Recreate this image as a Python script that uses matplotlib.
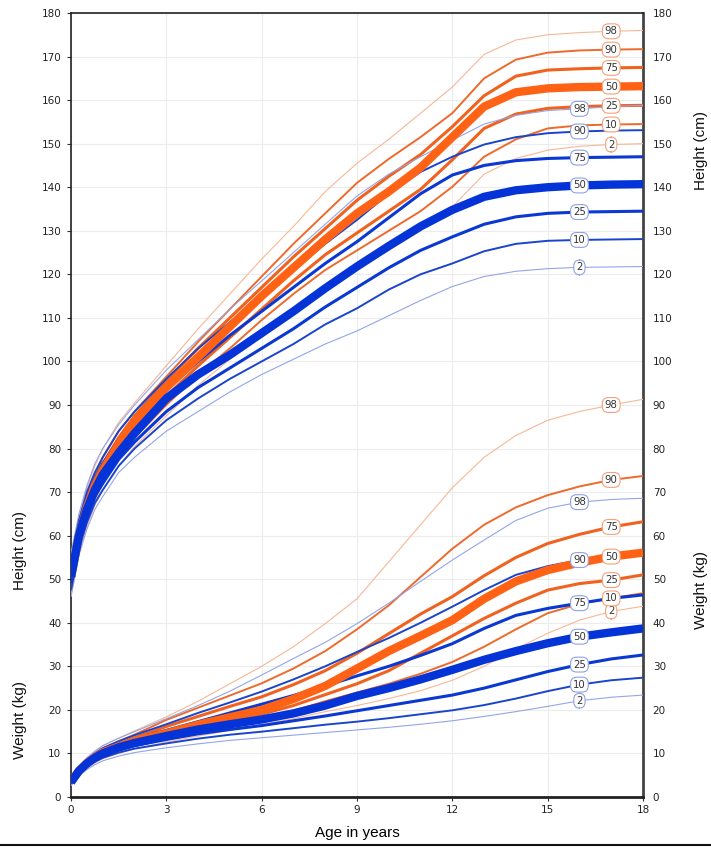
import matplotlib
matplotlib.use("Agg")
import matplotlib.pyplot as plt
import numpy as np
from matplotlib.lines import Line2D

# ---------------- data ----------------
ages = [0, 0.25, 0.5, 0.75, 1, 1.5, 2, 3, 4, 5, 6, 7, 8, 9, 10, 11, 12, 13, 14, 15, 16, 17, 18]
percentiles = [2, 10, 25, 50, 75, 90, 98]

# Height (cm), orange group
h_orange = {
    98: [55, 64, 71, 76, 80, 86, 90.5, 99, 107.5, 115.5, 123.5, 131, 139, 145.5, 151, 157, 163, 170.5, 173.8, 175, 175.5, 175.8, 176],
    90: [53.5, 62.5, 69, 74, 78, 84, 88.5, 96.5, 104.5, 112, 119.5, 127, 134, 141, 146.5, 151.5, 157, 165, 169.3, 170.9, 171.4, 171.6, 171.7],
    75: [52, 61.5, 68, 73, 76.5, 82.5, 87.5, 95.5, 103, 110, 117, 124, 130.5, 137, 142.5, 147.5, 153.9, 161, 165.5, 166.9, 167.2, 167.4, 167.5],
    50: [50.5, 60, 66.5, 71.5, 75, 81, 86, 94, 101, 108, 115, 121.5, 128, 134, 139, 144.5, 151.5, 158.5, 161.8, 162.7, 163, 163.1, 163.2],
    25: [49, 58.5, 65, 70, 73.5, 79.5, 84, 92, 99, 105.5, 112, 118.5, 124.5, 129.5, 134.5, 139.5, 146.3, 153.5, 156.8, 158.1, 158.5, 158.7, 158.8],
    10: [47.5, 57.5, 63.5, 68.5, 72, 78, 82.5, 90, 97, 103, 109.5, 115.5, 121, 125.5, 130, 134.5, 140.1, 147, 151, 153.5, 154.2, 154.4, 154.5],
    2:  [46, 56, 62, 67, 70.5, 76, 80.5, 87.5, 94.5, 100.5, 106.5, 112, 117.5, 121.5, 125.5, 130, 135.5, 143, 146.6, 148.5, 149.4, 149.8, 150],
}
# Height (cm), blue group
h_blue = {
    98: [56, 65, 71.5, 76.5, 80, 85.5, 90, 98, 105, 112, 118.5, 125, 131.5, 138, 143, 147, 150.8, 154.5, 156.5, 157.6, 158, 158.5, 158.8],
    90: [54, 63.5, 70, 74.5, 78, 84, 88.5, 96, 103, 109, 115, 121, 127, 132.5, 138.5, 143.5, 147, 149.8, 151.5, 152.4, 152.8, 153, 153.1],
    75: [52.5, 62, 68.5, 73, 76.5, 82, 86.5, 93.5, 100, 106, 111.5, 117, 122.5, 127.5, 133, 138.5, 142.8, 145, 146.1, 146.6, 146.8, 146.9, 147],
    50: [50.5, 60, 66, 70.5, 74, 79, 83.5, 91.5, 97, 101.5, 106.5, 111.5, 116.8, 121.8, 126.5, 131, 134.8, 137.8, 139.3, 140, 140.4, 140.6, 140.7],
    25: [49, 58.5, 64.5, 69, 72, 77.5, 81.5, 88.5, 94, 98.5, 103, 107.5, 112.5, 117, 121.5, 125.5, 128.6, 131.5, 133.2, 134, 134.3, 134.4, 134.5],
    10: [47.5, 57, 63, 67.5, 70.5, 76, 80, 86.5, 91.5, 96, 100, 104, 108.5, 112.2, 116.5, 120, 122.5, 125.3, 127, 127.7, 127.9, 128, 128.1],
    2:  [46, 55.5, 61.5, 66, 69, 74.5, 78, 84, 88.5, 93, 97, 100.5, 104, 107, 110.5, 114, 117.2, 119.5, 120.7, 121.3, 121.6, 121.7, 121.8],
}
# Weight (kg), orange group
w_orange = {
    98: [4.2, 7.0, 9.0, 10.5, 11.8, 13.5, 15.2, 18.4, 22, 26, 30, 34.5, 39.8, 45.5, 54, 62.5, 71, 78, 83, 86.5, 88.5, 90, 91.3],
    90: [3.9, 6.6, 8.5, 10, 11.2, 12.8, 14.3, 17.7, 20.5, 23.3, 26.1, 29.5, 33.5, 38.5, 44, 50.5, 57, 62.5, 66.5, 69.3, 71.3, 72.8, 73.7],
    75: [3.7, 6.3, 8.1, 9.5, 10.7, 12.2, 13.6, 16.2, 18.5, 20.8, 23, 25.8, 29, 33, 37.5, 42, 46, 50.8, 55, 58.2, 60.3, 62, 63.2],
    50: [3.5, 6.0, 7.8, 9.1, 10.2, 11.6, 12.9, 14.6, 16.6, 18.3, 20, 22.5, 25.5, 29.5, 33.5, 37, 40.6, 45.5, 49.5, 52.1, 53.8, 55.2, 56.1],
    25: [3.3, 5.7, 7.4, 8.7, 9.8, 11.1, 12.3, 14, 15.8, 17.5, 19, 21, 23.5, 26, 29, 33, 37, 41, 44.5, 47.5, 49, 49.8, 51],
    10: [3.0, 5.4, 7.1, 8.3, 9.4, 10.6, 11.8, 13.3, 15, 16.5, 18, 19.8, 22, 24, 26, 28.3, 31, 34.5, 38.5, 42.2, 44.3, 45.6, 46.8],
    2:  [2.7, 5.0, 6.6, 7.8, 8.8, 10, 11.1, 12.6, 14, 15.3, 16.6, 18, 19.6, 21, 22.6, 24.4, 26.8, 30, 34, 37.6, 40.6, 42.6, 43.8],
}
# Weight (kg), blue group
w_blue = {
    98: [4.2, 7.0, 9.0, 10.5, 11.8, 13.5, 15, 18, 21, 24.3, 28, 31.8, 35.5, 39.8, 44.5, 49.5, 54.4, 59, 63.5, 66.3, 67.7, 68.3, 68.6],
    90: [3.9, 6.6, 8.5, 10, 11.2, 12.8, 14.2, 16.7, 19.3, 21.7, 24.2, 27, 30, 33.3, 36.5, 40, 43.7, 47.5, 51, 53, 54.4, 55.3, 55.9],
    75: [3.6, 6.3, 8.1, 9.5, 10.6, 12.1, 13.4, 15.3, 17.3, 19.3, 21.3, 23.3, 25.5, 27.8, 30, 32.5, 35.2, 38.7, 41.7, 43.3, 44.5, 45.6, 46.4],
    50: [3.4, 6.0, 7.7, 9.0, 10.0, 11.4, 12.4, 14, 15.5, 16.7, 17.8, 19.2, 21, 23.2, 25, 27, 29.2, 31.5, 33.5, 35.3, 36.8, 37.8, 38.7],
    25: [3.2, 5.7, 7.3, 8.6, 9.5, 10.8, 11.8, 13.2, 14.5, 15.5, 16.4, 17.5, 18.6, 19.8, 21, 22.2, 23.4, 25, 26.9, 28.8, 30.4, 31.7, 32.6],
    10: [3.0, 5.3, 6.9, 8.1, 9.0, 10.2, 11.1, 12.3, 13.4, 14.3, 15.0, 15.8, 16.6, 17.3, 18.1, 19, 19.9, 21.1, 22.6, 24.3, 25.8, 26.8, 27.4],
    2:  [2.6, 4.8, 6.3, 7.4, 8.3, 9.4, 10.2, 11.3, 12.2, 13, 13.6, 14.2, 14.8, 15.4, 16, 16.7, 17.5, 18.5, 19.6, 20.8, 22.1, 22.9, 23.4],
}

x_ticks = [0, 3, 6, 9, 12, 15, 18]
y_ticks = list(range(0, 181, 10))
label_age_orange = 17.0
label_age_blue = 16.0

# ---------------- styles ----------------
ORANGE = {2: ('#f6b896', 0.8), 10: ('#ee6a2c', 1.4), 25: ('#f0621e', 2.2),
          50: ('#ff6215', 6.0), 75: ('#f0621e', 2.2), 90: ('#ee6a2c', 1.4), 98: ('#f6b896', 0.8)}
BLUE = {2: ('#93a6e8', 0.8), 10: ('#1a44cc', 1.4), 25: ('#0a38d2', 2.2),
        50: ('#0434d8', 6.0), 75: ('#0a38d2', 2.2), 90: ('#1a44cc', 1.4), 98: ('#93a6e8', 0.8)}

fig = plt.figure(figsize=(7.11, 8.48), dpi=100)
ax = fig.add_axes([71 / 711, 1 - 797 / 848, (643 - 71) / 711, (797 - 13) / 848])

ax.set_xlim(0, 18)
ax.set_ylim(0, 180)
ax.set_xticks(x_ticks)
ax.set_yticks(y_ticks)
ax.grid(True, color='#ececec', lw=0.8, zorder=0)
ax.set_axisbelow(True)

def draw(group, styles):
    order = [2, 98, 10, 90, 25, 75, 50]
    for p in order:
        c, lw = styles[p]
        ax.plot(ages, group[p], color=c, lw=lw, solid_capstyle='butt',
                solid_joinstyle='round', zorder=3 if p != 50 else 4)

draw(h_orange, ORANGE)
draw(h_blue, BLUE)
draw(w_orange, ORANGE)
draw(w_blue, BLUE)

def labels(group, age, edge):
    for p in percentiles:
        yv = np.interp(age, ages, group[p])
        ax.text(age, yv, str(p), ha='center', va='center', fontsize=7.3, color='#333333',
                zorder=6, family='DejaVu Sans',
                bbox=dict(boxstyle='round,pad=0.24,rounding_size=0.6', fc='white', ec=edge, lw=0.8))

labels(h_orange, label_age_orange, '#f2a27c')
labels(h_blue, label_age_blue, '#8fa2e2')
labels(w_orange, label_age_orange, '#f2a27c')
labels(w_blue, label_age_blue, '#8fa2e2')

# axes styling
for side in ['left', 'top']:
    ax.spines[side].set_color('#222222')
    ax.spines[side].set_linewidth(1.2)
ax.spines['bottom'].set_color('#222222')
ax.spines['bottom'].set_linewidth(2.0)
ax.spines['right'].set_color('#444444')
ax.spines['right'].set_linewidth(2.0)
ax.tick_params(axis='both', labelsize=7.5, colors='#333333', length=3, width=0.8)
ax.tick_params(axis='y', which='both', right=False, labelright=True, pad=4)
ax.tick_params(axis='x', pad=3)
for t in ax.get_yticklabels() + ax.get_xticklabels():
    t.set_color('#222222')

ax.set_xlabel('Age in years', fontsize=11, family='Liberation Sans', labelpad=8)

tf = dict(fontsize=11, family='Liberation Sans', rotation=90, ha='center', va='center', color='#111111')
fig.text(20 / 711, 1 - 550 / 848, 'Height (cm)', **tf)
fig.text(20 / 711, 1 - 720 / 848, 'Weight (kg)', **tf)
fig.text(701 / 711, 1 - 150 / 848, 'Height (cm)', **tf)
fig.text(701 / 711, 1 - 590 / 848, 'Weight (kg)', **tf)

fig.add_artist(Line2D([0, 1], [1 - 845 / 848, 1 - 845 / 848], color='#111111', lw=1.5))

fig.savefig('out.png', dpi=100, facecolor='white')
